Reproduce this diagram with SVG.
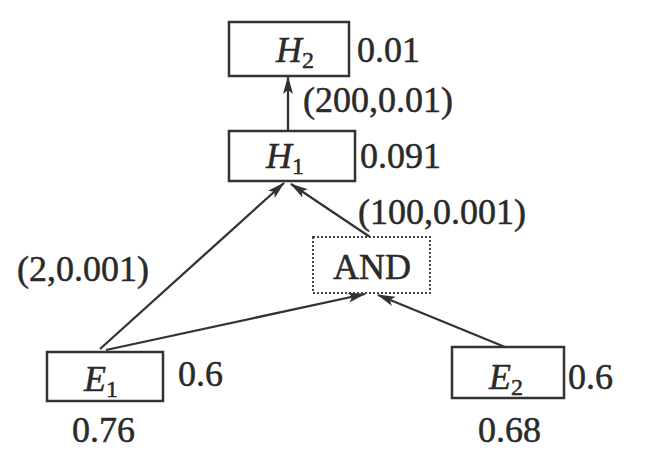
<svg xmlns="http://www.w3.org/2000/svg" width="655" height="467" viewBox="0 0 655 467">
<style>
text{font-family:"Liberation Serif","Times New Roman",serif;fill:#2a2a2a;stroke:#2a2a2a;stroke-width:0.5;font-size:36px}
.box{fill:#fff;stroke:#333;stroke-width:2.5}
.dot{fill:#fff;stroke:#444;stroke-width:2;stroke-dasharray:2 2}
.it{font-style:italic}
.sub{font-size:24px;font-style:normal}
.edge{stroke:#333;stroke-width:2.3;fill:none;marker-end:url(#ah)}
</style>
<defs>
<marker id="ah" markerWidth="18" markerHeight="12" refX="17" refY="6" orient="auto" markerUnits="userSpaceOnUse">
<path d="M0,1 L18,6 L0,11 L4,6 Z" fill="#333"/>
</marker>
</defs>
<rect width="655" height="467" fill="#fff"/>
<g id="connectors">
<line class="edge" x1="288" y1="131" x2="288" y2="77"/>
<line class="edge" x1="100" y1="349" x2="284" y2="183"/>
<line class="edge" x1="370" y1="237" x2="291" y2="184"/>
<line class="edge" x1="106" y1="350" x2="365" y2="294"/>
<line class="edge" x1="505" y1="347" x2="378" y2="295"/>
</g>
<g id="H2">
<rect class="box" x="229" y="22" width="120" height="54"/>
<text x="276" y="62" class="it">H<tspan class="sub" dy="6">2</tspan></text>
<text x="357" y="62">0.01</text>
</g>
<g id="H1">
<rect class="box" x="229" y="131" width="126" height="50"/>
<text x="266" y="168" class="it">H<tspan class="sub" dy="6">1</tspan></text>
<text x="360" y="168">0.091</text>
</g>
<g id="AND">
<rect class="dot" x="313" y="237" width="117" height="56"/>
<text x="372" y="279" text-anchor="middle">AND</text>
</g>
<g id="E1">
<rect class="box" x="47" y="352" width="116" height="49"/>
<text x="84" y="391" class="it">E<tspan class="sub" dy="6">1</tspan></text>
<text x="178" y="386">0.6</text>
<text x="72" y="442">0.76</text>
</g>
<g id="E2">
<rect class="box" x="452" y="347" width="112" height="51"/>
<text x="489" y="389" class="it">E<tspan class="sub" dy="6">2</tspan></text>
<text x="568" y="389">0.6</text>
<text x="478" y="442">0.68</text>
</g>
<g id="labels">
<text x="303" y="112">(200,0.01)</text>
<text x="358" y="224">(100,0.001)</text>
<text x="17" y="281">(2,0.001)</text>
</g>
</svg>
